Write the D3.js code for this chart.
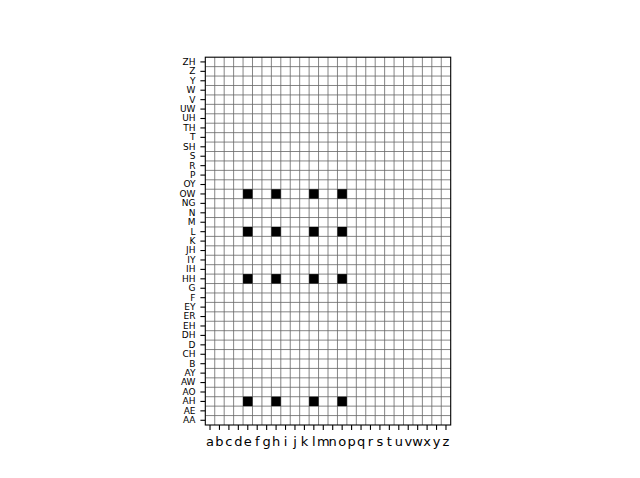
<!DOCTYPE html>
<html>
<head>
<meta charset="utf-8">
<script src="https://cdn.jsdelivr.net/npm/d3@7"></script>
<style>
  html, body { margin: 0; padding: 0; background: #fff; }
  svg { display: block; }
  text { font-family: "DejaVu Sans", sans-serif; fill: #000; }
</style>
</head>
<body>
<svg id="chart" width="640" height="478"></svg>
<script>
// x categories (letters)
const letters = ["a","b","c","d","e","f","g","h","i","j","k","l","m","n","o","p","q","r","s","t","u","v","w","x","y","z"];
// y categories (phonemes), bottom to top
const phonemes = ["AA","AE","AH","AO","AW","AY","B","CH","D","DH","EH","ER","EY","F","G","HH","IH","IY","JH","K","L","M","N","NG","OW","OY","P","R","S","SH","T","TH","UH","UW","V","W","Y","Z","ZH"];
// filled cells: letter / phoneme pairs
const cellLetters  = ["e","h","l","o", "e","h","l","o", "e","h","l","o", "e","h","l","o"];
const cellPhonemes = ["AH","AH","AH","AH", "HH","HH","HH","HH", "L","L","L","L", "OW","OW","OW","OW"];
const cells = cellLetters.map((l, i) => ({ letter: l, phoneme: cellPhonemes[i] }));

const svg = d3.select("#chart");
svg.append("rect").attr("width", 640).attr("height", 478).attr("fill", "#fff");

const plotL = 205.3, plotR = 450.7, plotT = 57.2, plotB = 425.0;

const x = d3.scaleBand().domain(letters).range([plotL, plotR]).padding(0);
const y = d3.scaleBand().domain(phonemes.slice().reverse()).range([plotT, plotB]).padding(0);

const g = svg.append("g");

// grid lines at cell boundaries
const xb = letters.slice(1).map(l => x(l));
const yb = phonemes.slice(0, -1).map(p => y(p));
g.selectAll("line.vg").data(xb).join("line")
  .attr("class", "vg")
  .attr("x1", d => d).attr("x2", d => d)
  .attr("y1", plotT).attr("y2", plotB)
  .attr("stroke", "#666").attr("stroke-width", 0.8);
g.selectAll("line.hg").data(yb).join("line")
  .attr("class", "hg")
  .attr("y1", d => d).attr("y2", d => d)
  .attr("x1", plotL).attr("x2", plotR)
  .attr("stroke", "#666").attr("stroke-width", 0.8);

// filled cells
g.selectAll("rect.cell").data(cells).join("rect")
  .attr("class", "cell")
  .attr("x", d => x(d.letter))
  .attr("y", d => y(d.phoneme))
  .attr("width", x.bandwidth())
  .attr("height", y.bandwidth())
  .attr("fill", "#000");

// frame
g.append("rect")
  .attr("x", plotL).attr("y", plotT)
  .attr("width", plotR - plotL).attr("height", plotB - plotT)
  .attr("fill", "none").attr("stroke", "#000").attr("stroke-width", 1.1);

// x axis
const xAxis = d3.axisBottom(x).tickSize(4.9).tickPadding(6.5);
const xg = svg.append("g").attr("transform", `translate(0,${plotB})`).call(xAxis);
xg.select(".domain").remove();
xg.selectAll(".tick line").attr("stroke", "#000").attr("stroke-width", 1.1);
xg.selectAll(".tick text").attr("font-size", "13px").attr("font-family", "DejaVu Sans");

// y axis
const yAxis = d3.axisLeft(y).tickSize(4.9).tickPadding(4.9);
const yg = svg.append("g").attr("transform", `translate(${plotL},0)`).call(yAxis);
yg.select(".domain").remove();
yg.selectAll(".tick line").attr("stroke", "#000").attr("stroke-width", 1.1);
yg.selectAll(".tick text").attr("font-size", "9px").attr("font-family", "DejaVu Sans");
</script>
</body>
</html>
